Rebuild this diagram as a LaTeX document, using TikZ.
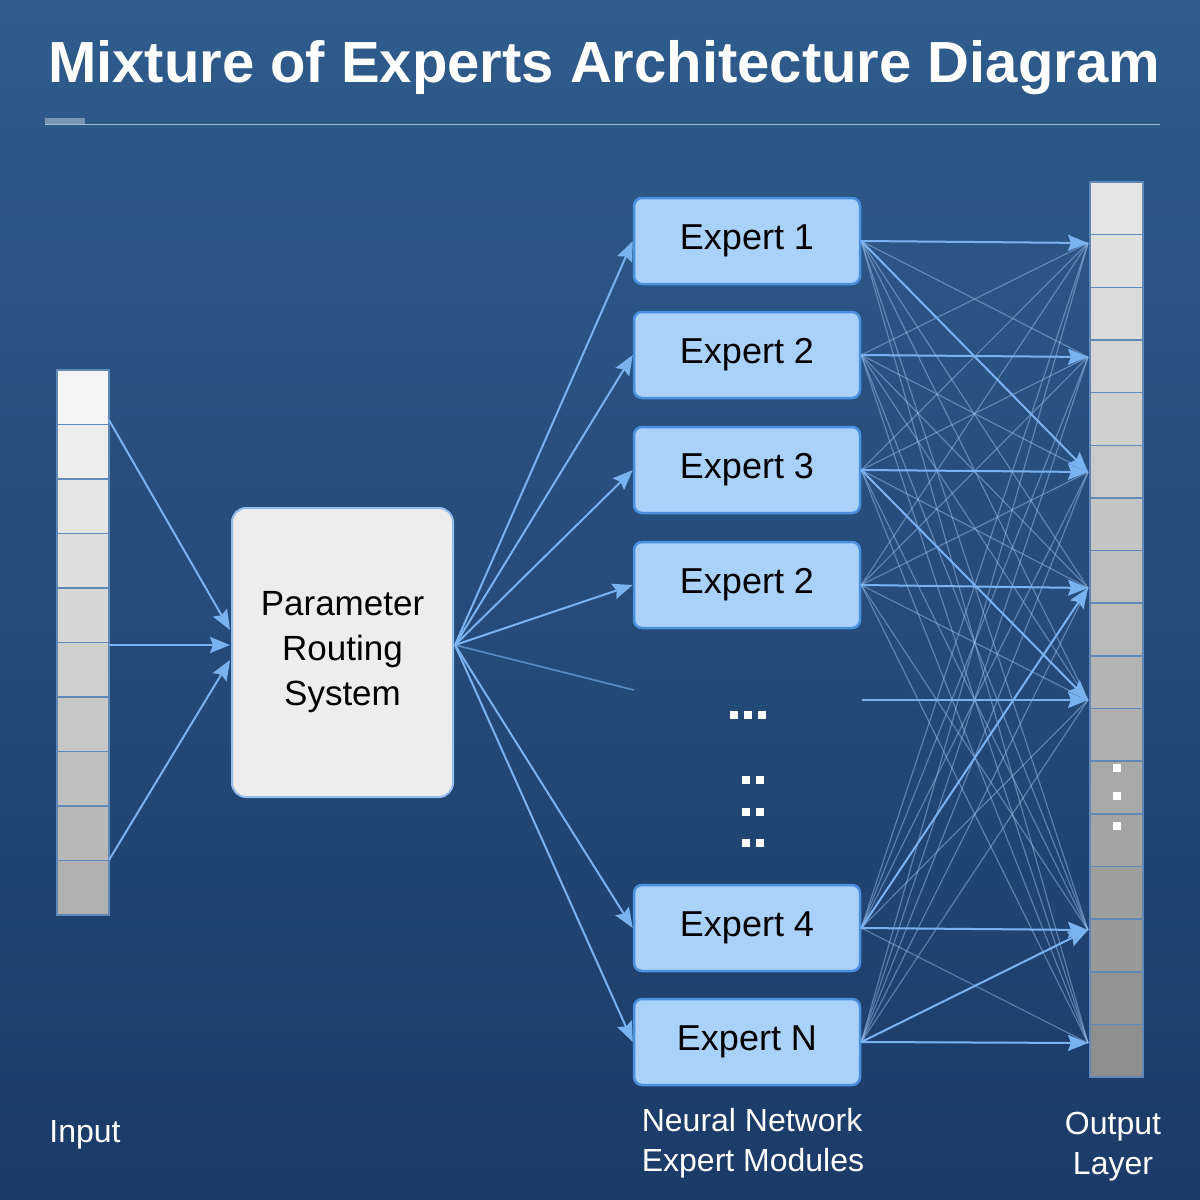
\documentclass[tikz,border=0pt]{standalone}
\usepackage{fontspec}
\setmainfont{Liberation Sans}
\usetikzlibrary{arrows.meta}
\definecolor{bgtop}{HTML}{2E5C8C}
\definecolor{bgbot}{HTML}{1B3B68}
\definecolor{expfill}{HTML}{A9D1FA}
\definecolor{expdraw}{HTML}{4A8FE0}
\definecolor{conn}{HTML}{7AB2F0}
\tikzset{
 expert/.style={draw=expdraw,line width=2.5pt,fill=expfill,rounded corners=8pt,minimum width=226pt,minimum height=86pt,font=\fontsize{36}{40}\selectfont,text=black},
 arr/.style={draw=conn,line width=2pt,-{Stealth[length=20pt,width=16pt,inset=3pt]}},
 faint/.style={draw=conn!70!white,line width=1.2pt,opacity=0.45},
 lab/.style={text=white,font=\fontsize{32}{40}\selectfont,align=center}
}
\begin{document}
\begin{tikzpicture}[x=1pt,y=-1pt]
\useasboundingbox (0,0) rectangle (1200,1200);
\shade[top color=bgtop,bottom color=bgbot] (0,0) rectangle (1200,1200);
\node[text=white,font=\fontsize{58}{64}\selectfont\bfseries] (title) at (604,68) {Mixture of Experts Architecture Diagram};
\draw[white!60!bgtop,line width=1pt] (45,124) -- (1160,124);
\draw[white!35!bgtop,line width=6pt] (45,121) -- (85,121);
% input column
\foreach \i in {0,...,9}{
 \pgfmathsetmacro\c{92-\i*6}
 \pgfmathsetmacro\yy{370+\i*54.5}
 \draw[expdraw!60!gray,line width=1.5pt,fill=white!\c!gray] (57,\yy) rectangle (109,\yy+54.5);
}
\coordinate (in1) at (109,420);
\coordinate (in2) at (109,645);
\coordinate (in3) at (109,860);
% router
\node[draw=expdraw!60!white,line width=2pt,fill=gray!14,rounded corners=14pt,minimum width=221pt,minimum height=289pt,align=center,font=\fontsize{35}{45}\selectfont] (router) at (342.5,652.5) {Parameter\\Routing\\System};
\draw[arr] (in1) -- (230,630);
\draw[arr] (in2) -- (230,645);
\draw[arr] (in3) -- (230,660);
% experts
\node[expert] (e1) at (747,241) {Expert 1};
\node[expert] (e2) at (747,355) {Expert 2};
\node[expert] (e3) at (747,470) {Expert 3};
\node[expert] (e4) at (747,585) {Expert 2};
\node[expert] (e5) at (747,928) {Expert 4};
\node[expert] (e6) at (747,1042) {Expert N};
\coordinate (rt) at (455,645);
\foreach \e in {e1,e2,e3,e4,e5,e6}{\draw[arr] (rt) -- (\e.west);}
\coordinate (fade) at (634,690);
\draw[conn,line width=1.8pt,opacity=0.6] (rt) -- (fade);
% dots
\foreach \x in {734,748,762}{\fill[white] (\x-4,711) rectangle (\x+4,719);}
\foreach \y in {780,812,843}{\fill[white] (742,\y-4) rectangle (750,\y+4); \fill[white] (756,\y-4) rectangle (764,\y+4);}
% output column
\foreach \i in {0,...,16}{
 \pgfmathsetmacro\c{80-\i*4.3}
 \pgfmathsetmacro\yy{182+\i*52.65}
 \draw[expdraw!60!gray,line width=1.5pt,fill=white!\c!gray] (1090,\yy) rectangle (1143,\yy+52.65);
}
\foreach \y in {768,796,826}{\fill[white] (1113,\y-4) rectangle (1121,\y+4);}
\foreach \t/\y in {o1/243,o2/357,o3/472,o4/588,o5/700,o6/930,o7/1043}{\coordinate (\t) at (1088,\y);}
% cross connections
\foreach \e in {e1,e2,e3,e4,e5,e6}{
 \foreach \t in {o1,o2,o3,o4,o5,o6,o7}{\draw[faint] (\e.east) -- (\t);}
}
\coordinate (f5) at (862,700);
\draw[arr] (f5) -- (o5);
\draw[arr] (e1.east) -- (o1);
\draw[arr] (e2.east) -- (o2);
\draw[arr] (e3.east) -- (o3);
\draw[arr] (e4.east) -- (o4);
\draw[arr] (e5.east) -- (o6);
\draw[arr] (e6.east) -- (o7);
\draw[arr] (e1.east) -- (o3);
\draw[arr] (e3.east) -- (o5);
\draw[arr] (e6.east) -- (o6);
\draw[arr] (e5.east) -- (o4);
% labels
\node[lab] (li) at (85,1135) {Input};
\node[lab,align=left] (ln) at (753,1143) {Neural Network\\Expert Modules};
\node[lab] (lo) at (1113,1147) {Output\\Layer};
\end{tikzpicture}
\end{document}
